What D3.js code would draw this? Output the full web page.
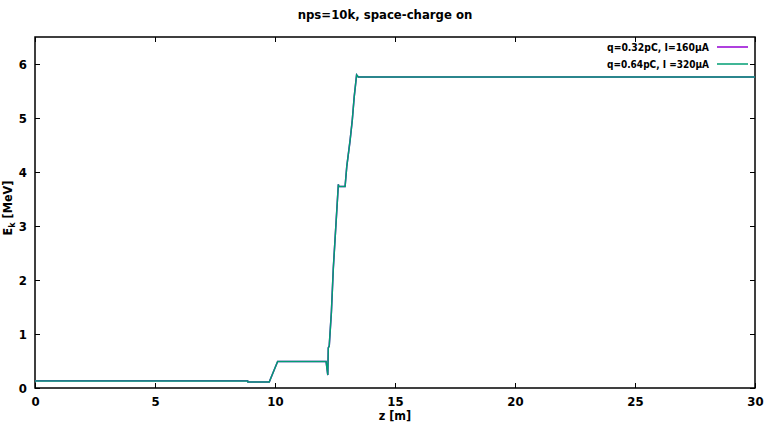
<!DOCTYPE html>
<html><head><meta charset="utf-8">
<script src="https://cdn.jsdelivr.net/npm/d3@7"></script>
<style>
body{margin:0;background:#fff;}
text{font-family:"DejaVu Sans Condensed","DejaVu Sans",sans-serif;font-weight:bold;}
</style></head><body>
<svg id="c" width="767" height="423"></svg>
<script>
const title = "nps=10k, space-charge on";
const xLabel = "z [m]";
const xTicks = [0,5,10,15,20,25,30];
const yTicks = [0,1,2,3,4,5,6];
const seriesNames = ["q=0.32pC, I=160\u03bcA", "q=0.64pC, I =320\u03bcA"];
const seriesColors = ["#9400d3", "#009e73"];
const z1 = [0, 8.86, 8.87, 9.76, 10.11, 12.13, 12.2, 12.22, 12.26, 12.35, 12.43, 12.53, 12.64, 12.66, 12.92, 12.99, 13.13, 13.22, 13.30, 13.40, 13.47, 30];
const e1 = [0.135, 0.135, 0.11, 0.11, 0.49, 0.49, 0.24, 0.74, 0.78, 1.41, 2.22, 2.96, 3.77, 3.73, 3.73, 4.10, 4.59, 4.96, 5.39, 5.80, 5.76, 5.76];
const z2 = [0, 8.86, 8.87, 9.76, 10.11, 12.13, 12.2, 12.22, 12.26, 12.35, 12.43, 12.53, 12.64, 12.66, 12.92, 12.99, 13.13, 13.22, 13.30, 13.40, 13.47, 30];
const e2 = [0.13, 0.13, 0.11, 0.11, 0.49, 0.49, 0.24, 0.74, 0.78, 1.41, 2.22, 2.96, 3.77, 3.73, 3.73, 4.10, 4.59, 4.96, 5.39, 5.80, 5.76, 5.76];

const svg = d3.select("#c");
const L=35, R=755, T=37, B=388;
const x = d3.scaleLinear().domain([0,30]).range([L,R]);
const y = d3.scaleLinear().domain([0,6.5]).range([B,T]);

svg.append("text").attr("x",385).attr("y",19).attr("text-anchor","middle").attr("font-size",13).text(title);

const tl=5;
const gx = svg.append("g").attr("transform",`translate(0,${B})`).call(d3.axisBottom(x).tickValues(xTicks).tickSize(-tl).tickPadding(9).tickFormat(d3.format("d")));
const gxt = svg.append("g").attr("transform",`translate(0,${T})`).call(d3.axisTop(x).tickValues(xTicks).tickSize(-tl).tickFormat(""));
const gy = svg.append("g").attr("transform",`translate(${L},0)`).call(d3.axisLeft(y).tickValues(yTicks).tickSize(-tl).tickPadding(8).tickFormat(d3.format("d")));
const gyr = svg.append("g").attr("transform",`translate(${R},0)`).call(d3.axisRight(y).tickValues(yTicks).tickSize(-tl).tickFormat(""));
[gx,gxt,gy,gyr].forEach(g=>{g.select(".domain").remove();g.selectAll("line").attr("stroke","#000").attr("stroke-width",1);g.selectAll("text").attr("font-size",13).attr("fill","#000").attr("font-family","DejaVu Sans Condensed, DejaVu Sans, sans-serif").attr("font-weight","bold");});
gx.selectAll("text").attr("dy","0.71em");

svg.append("rect").attr("x",L).attr("y",T).attr("width",R-L).attr("height",B-T).attr("fill","none").attr("stroke","#000").attr("stroke-width",1.5);

svg.append("text").attr("x",(L+R)/2).attr("y",420).attr("text-anchor","middle").attr("font-size",12.5).text(xLabel);
const yl = svg.append("text").attr("transform","translate(12,208) rotate(-90)").attr("text-anchor","middle").attr("font-size",12.5);
yl.append("tspan").text("E");
yl.append("tspan").attr("font-size",9).attr("dy",3).text("k");
yl.append("tspan").attr("dy",-3).text("\u00a0[MeV]");

const line = d3.line().x(d=>x(d[0])).y(d=>y(d[1]));
const data = [d3.zip(z1,e1), d3.zip(z2,e2)];
data.forEach((d,i)=>{
  svg.append("path").datum(d).attr("d",line).attr("fill","none").attr("stroke",seriesColors[i]).attr("stroke-width",1.5);
});

seriesNames.forEach((n,i)=>{
  const yy = 47 + i*17;
  svg.append("text").attr("x",709).attr("y",yy+4).attr("text-anchor","end").attr("font-size",11).attr("textLength",102).attr("lengthAdjust","spacingAndGlyphs").text(n);
  svg.append("line").attr("x1",717).attr("x2",748).attr("y1",yy).attr("y2",yy).attr("stroke",seriesColors[i]).attr("stroke-width",1.5);
});
</script></body></html>
